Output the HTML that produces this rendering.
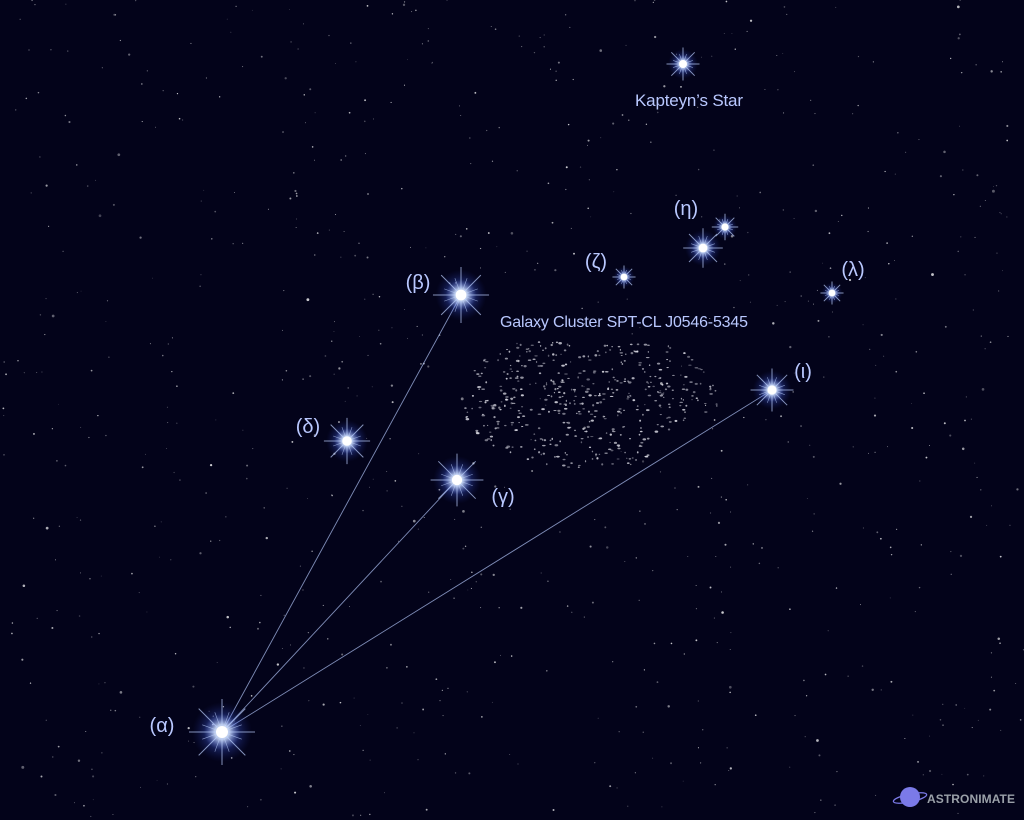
<!DOCTYPE html>
<html><head><meta charset="utf-8"><style>
html,body{margin:0;padding:0;background:#03031a;width:1024px;height:820px;overflow:hidden}
svg{display:block}
text{font-family:"Liberation Sans",sans-serif;fill:#b9c8ff}
</style></head><body>
<svg id="map" width="1024" height="820" viewBox="0 0 1024 820">
<defs>
<radialGradient id="glow"><stop offset="0" stop-color="#ffffff" stop-opacity="1"/><stop offset="0.25" stop-color="#cfe0ff" stop-opacity="0.9"/><stop offset="0.6" stop-color="#4a6cff" stop-opacity="0.25"/><stop offset="1" stop-color="#2030a0" stop-opacity="0"/></radialGradient>
</defs>
<rect width="1024" height="820" fill="#03031a"/>
<g id="bg"></g><g id="cluster"></g><g id="lines"></g><g id="stars"></g><g id="labels"></g>
<g>
<circle cx="910" cy="797" r="10" fill="#7b7ae8"/>
<ellipse cx="910" cy="798" rx="17" ry="4" fill="none" stroke="#7b7ae8" stroke-width="1.3" transform="rotate(-12 910 798)"/>
<text x="927" y="803" font-size="12" font-weight="bold" textLength="88" style="fill:#9aa0a8">ASTRONIMATE</text>
</g>
</svg>
<script>
const starNames=['alpha','beta','gamma','delta','iota','zeta','eta','eta2','lambda','kapteyn'];
const starX=[222,461,457,347,772,624,703,725,832,683];
const starY=[732,295,480,441,390,277,248,227,293,64];
const starMag=[1.0,0.85,0.8,0.7,0.65,0.35,0.6,0.4,0.35,0.5];
const labelText=['(α)','(β)','(γ)','(δ)','(ι)','(ζ)','(η)','(λ)'];
const labelX=[162,418,503,308,803,596,686,853];
const labelY=[732,289,503,433,378,268,215,276];
const linkFrom=[0,0,0];const linkTo=[1,2,4];
const NS='http://www.w3.org/2000/svg';
function mk(t,a){const e=document.createElementNS(NS,t);for(const k in a)e.setAttribute(k,a[k]);return e;}
let s=12345;function rnd(){s=(s*16807)%2147483647;return s/2147483647;}
const bg=document.getElementById('bg');
for(let i=0;i<800;i++){const c=mk('circle',{cx:rnd()*1024,cy:rnd()*820,r:0.4+rnd()*rnd()*1.1,fill:'#fff','fill-opacity':0.25+rnd()*0.55});bg.appendChild(c);}
const cl=document.getElementById('cluster');


for(let i=0;i<700;i++){const x=465+rnd()*255,y=335+rnd()*140;const nx=(x-590)/125,ny=(y-400)/65;const top=340+(x-465)*0.02;if(nx*nx+ny*ny>1.1||y<top)continue;if(x>650&&y>440-(x-650)*0.5)continue;
const c=mk('ellipse',{cx:x,cy:y,rx:0.6+rnd()*1.3,ry:0.5+rnd()*0.7,fill:'#e8e8f0','fill-opacity':0.35+rnd()*0.5});cl.appendChild(c);}
const lg=document.getElementById('lines');
for(let i=0;i<linkFrom.length;i++){const a=linkFrom[i],b=linkTo[i];const l=mk('line',{x1:starX[a],y1:starY[a],x2:starX[b],y2:starY[b],stroke:'#9fb0e0','stroke-width':0.9,'stroke-opacity':0.8});

lg.appendChild(l);}
const sg=document.getElementById('stars');
for(let i=0;i<starX.length;i++){const g=mk('g',{transform:'translate('+starX[i]+','+starY[i]+')'});


const m=starMag[i],R=30*m;
g.appendChild(mk('circle',{r:R,fill:'url(#glow)'}));
[0,45,90,135,20,70,110,160].forEach((a,k)=>{const L=(k<4?R*1.1:R*0.7);const r=a*Math.PI/180;
g.appendChild(mk('line',{x1:-L*Math.cos(r),y1:-L*Math.sin(r),x2:L*Math.cos(r),y2:L*Math.sin(r),stroke:'#bcd0ff','stroke-width':k<4?1:0.6,'stroke-opacity':0.7}));});
g.appendChild(mk('circle',{r:2+4*m,fill:'#fff'}));sg.appendChild(g);}
const lb=document.getElementById('labels');
for(let i=0;i<labelText.length;i++){const t=mk('text',{x:labelX[i],y:labelY[i],'font-size':20,'text-anchor':'middle'});t.textContent=labelText[i];

lb.appendChild(t);}
const k=mk('text',{x:689,y:106,'font-size':17,'text-anchor':'middle',textLength:108});k.textContent="Kapteyn’s Star";

lb.appendChild(k);
const gc=mk('text',{x:624,y:327,'font-size':16,'text-anchor':'middle',textLength:248});gc.textContent="Galaxy Cluster SPT-CL J0546-5345";

lb.appendChild(gc);
</script>
</body></html>
